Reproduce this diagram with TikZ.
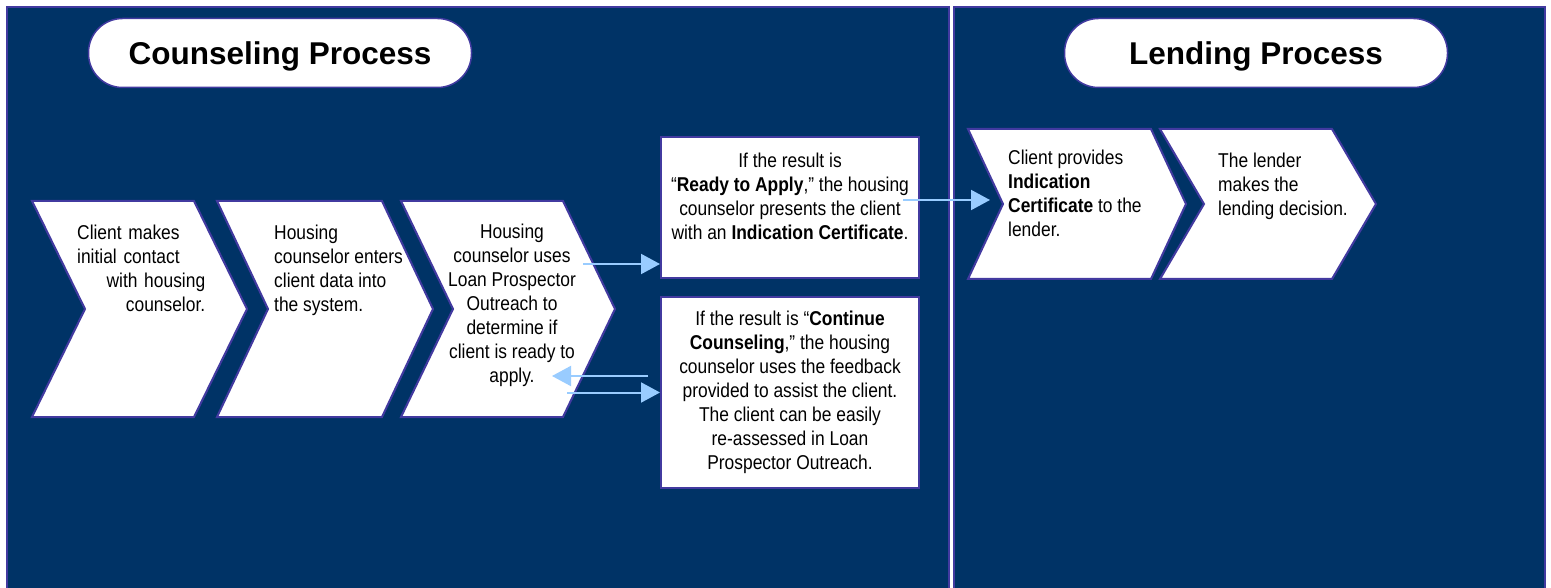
\documentclass[tikz,border=0pt]{standalone}
\usepackage{fontspec}
\setmainfont{Liberation Sans}[FakeStretch=0.87]
\newfontfamily\headfont{Liberation Sans}
\usepackage{tikz}
\usetikzlibrary{arrows.meta,positioning}
\usepackage{color}

\definecolor{navy}{RGB}{0,51,102}
\definecolor{edge}{RGB}{66,58,160}
\definecolor{arrowblue}{RGB}{153,204,255}

\tikzset{
  panel/.style={fill=navy, draw=edge, line width=1.5pt},
  pill/.style={fill=white, draw=edge, line width=1.5pt, rounded corners=34pt,
    minimum width=383pt, minimum height=69pt, inner sep=0pt,
    text height=22.5pt, text depth=0pt, font=\headfont\fontsize{31.5}{36}\selectfont\bfseries},
  chevbox/.style={fill=white, draw=edge, line width=2pt},
  resultbox/.style={fill=white, draw=edge, line width=2pt, minimum width=258pt, inner sep=0pt},
  steptext/.style={inner sep=0pt, font=\fontsize{20}{24}\selectfont},
  flow/.style={draw=arrowblue, line width=2pt, -{Triangle[length=19pt,width=20pt]}},
}

% name, x, top, flat width, height, point depth
\newcommand{\chevron}[6]{%
  \draw[chevbox] (#2,#3) -- ++(#4,0) -- ++(#6,#5/2) -- ++(-#6,#5/2)
    -- ++(-#4,0) -- ++(#6,-#5/2) -- cycle;
  \coordinate (#1) at (#2+#6,#3+#5/2);}

\begin{document}
\begin{tikzpicture}[x=1pt, y=-1pt]
    \useasboundingbox (0,0) rectangle (1551,588);

    % two process panels
    \draw[panel] (7,7) rectangle (949,600);
    \draw[panel] (954,7) rectangle (1545,600);

    \node [pill] (counseling) at (280,53) {Counseling Process};
    \node [pill] (lending) at (1256,53) {Lending Process};

    % counseling steps
    \chevron{contact}{32}{201}{162}{216}{53}
    \chevron{enter}{217}{201}{165}{216}{51}
    \chevron{assess}{401}{201}{162}{216}{52}

    \node [steptext, anchor=north west, text width=128pt, align=right] (contacttxt) at (77,224.5)
      {Client makes\hfill\null\\ initial contact\hfill\null\\ with housing\\ counselor.};
    \node [steptext, anchor=north west, align=left] (entertxt) at (274,224.5)
      {Housing\\ counselor enters\\ client data into\\ the system.};
    \node [steptext, anchor=north, align=center] (assesstxt) at (512,223.5)
      {Housing\\ counselor uses\\ Loan Prospector\\ Outreach to\\ determine if\\ client is ready to\\ apply.};

    % the two possible results
    \node [resultbox, minimum height=141pt] (ready) at (790,207.5) {};
    \node [steptext, anchor=north, align=center] (readytxt) at (790,152.5)
      {If the result is\\ “\textbf{Ready to Apply},” the housing\\ counselor presents the client\\
       with an \textbf{Indication Certificate}.};
    \node [resultbox, minimum height=191pt] (continue) at (790,392.5) {};
    \node [steptext, anchor=north, align=center] (continuetxt) at (790,310.5)
      {If the result is “\textbf{Continue}\\ \textbf{Counseling},” the housing\\ counselor uses the feedback\\
       provided to assist the client.\\ The client can be easily\\ re-assessed in Loan\\ Prospector Outreach.};

    % lending steps
    \chevron{provide}{968}{129}{183}{150}{35}
    \chevron{decide}{1160}{129}{172}{150}{44}

    \node [steptext, anchor=north west, align=left] (providetxt) at (1008,149.5)
      {Client provides\\ \textbf{Indication}\\ \textbf{Certificate} to the\\ lender.};
    \node [steptext, anchor=north west, align=left] (decidetxt) at (1218,152.5)
      {The lender\\ makes the\\ lending decision.};

    % arrows between steps
    \coordinate (toready) at (583,264);
    \coordinate (backfrom) at (648,376);
    \coordinate (backto) at (552,376);
    \coordinate (tocontinue) at (567,392.5);
    \coordinate (tolender) at (903,200);
    \coordinate (lenderin) at (990,200);

    \draw[flow] (toready) -- (toready -| ready.west);
    \draw[flow] (backfrom) -- (backto);
    \draw[flow] (tocontinue) -- (continue.west);
    \draw[flow] (tolender) -- (lenderin);
\end{tikzpicture}
\end{document}
